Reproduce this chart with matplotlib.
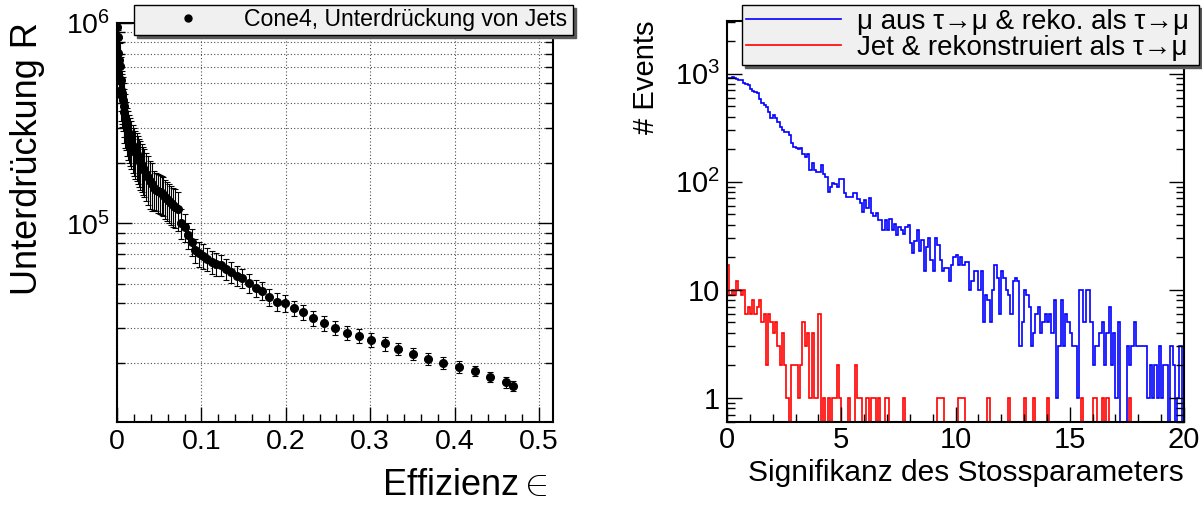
import numpy as np
import matplotlib
matplotlib.use("Agg")
import matplotlib.pyplot as plt
from matplotlib.lines import Line2D
from matplotlib.ticker import MultipleLocator, LogLocator, NullFormatter, FuncFormatter

plt.rcParams['font.family'] = ['Liberation Sans', 'DejaVu Sans']
plt.rcParams['mathtext.fontset'] = 'custom'
plt.rcParams['mathtext.rm'] = 'Liberation Sans'
plt.rcParams['mathtext.it'] = 'Liberation Sans:italic'
plt.rcParams['mathtext.bf'] = 'Liberation Sans:bold'

# left panel: efficiency vs. jet rejection (Cone4)
efficiency = [0.0004, 0.0010, 0.0017, 0.0025, 0.0036, 0.0043, 0.0049, 0.0058, 0.0065, 0.0072,
              0.0080, 0.0088, 0.0095, 0.0105, 0.0118, 0.0130, 0.0142, 0.0154, 0.0170, 0.0186,
              0.0200, 0.0216, 0.0232, 0.0250, 0.0265, 0.0277, 0.0295, 0.0310, 0.0323, 0.0345,
              0.0368, 0.0390, 0.0414, 0.0436, 0.0460, 0.0482, 0.0505, 0.0528, 0.0550, 0.0573,
              0.0596, 0.0619, 0.0642, 0.0665, 0.0690, 0.0719, 0.0764, 0.0805, 0.0847, 0.0892,
              0.0929, 0.0970, 0.1015, 0.1066, 0.1120, 0.1175, 0.1234, 0.1294, 0.1348, 0.1421,
              0.1485, 0.1567, 0.1649, 0.1722, 0.1804, 0.1895, 0.1995, 0.2100, 0.2204, 0.2327,
              0.2455, 0.2587, 0.2724, 0.2865, 0.3015, 0.3170, 0.3334, 0.3502, 0.3685, 0.3863,
              0.4050, 0.4241, 0.4424, 0.4606, 0.4690]
rejection = [960000, 850000, 711000, 650000, 608000, 520000, 464000, 445000, 430000, 415000,
             385000, 360000, 340000, 318000, 298000, 285000, 275000, 265000, 255000, 243000,
             236000, 228000, 222000, 215000, 208000, 202000, 196000, 190000, 185000, 177000,
             170000, 162000, 157000, 150000, 147000, 145000, 143000, 141000, 139000, 135000,
             132000, 129000, 126000, 123000, 121000, 118000, 100700, 95800, 87700, 81100,
             73600, 70800, 68900, 66300, 64300, 62800, 62300, 59500, 57500, 54900,
             53200, 50500, 47500, 46100, 43000, 40700, 40100, 37700, 36000, 33700,
             31800, 30200, 28500, 27400, 26200, 25200, 23700, 22400, 21000, 20100,
             19200, 18400, 17100, 16100, 15500]
rel_error = [0.30, 0.30, 0.30, 0.30, 0.30, 0.30, 0.30, 0.30, 0.30, 0.30,
             0.30, 0.30, 0.30, 0.27, 0.27, 0.27, 0.27, 0.27, 0.27, 0.27,
             0.27, 0.27, 0.27, 0.27, 0.27, 0.27, 0.27, 0.27, 0.27, 0.27,
             0.27, 0.27, 0.27, 0.22, 0.22, 0.22, 0.22, 0.22, 0.22, 0.22,
             0.22, 0.22, 0.22, 0.22, 0.22, 0.22, 0.17, 0.16, 0.15, 0.15,
             0.14, 0.14, 0.14, 0.13, 0.13, 0.13, 0.12, 0.12, 0.12, 0.11,
             0.11, 0.11, 0.10, 0.10, 0.10, 0.10, 0.10, 0.09, 0.09, 0.09,
             0.09, 0.08, 0.08, 0.08, 0.08, 0.08, 0.07, 0.07, 0.07, 0.07,
             0.07, 0.06, 0.06, 0.06, 0.06]

# right panel: impact parameter significance, 200 bins from 0 to 20
sig_range = (0, 20)
mu_counts = [918, 918, 930, 900, 893, 870, 867, 826, 800, 780,
             713, 692, 670, 662, 579, 536, 510, 495, 440, 385,
             412, 386, 360, 321, 300, 289, 285, 270, 226, 210,
             203, 199, 203, 180, 170, 180, 128, 148, 128, 124,
             124, 143, 117, 111, 81, 90, 98, 96, 90, 105,
             105, 78, 72, 72, 72, 78, 78, 69, 63, 53,
             68, 57, 70, 51, 48, 51, 44, 44, 36, 44,
             36, 45, 36, 41, 32, 38, 36, 33, 38, 40,
             27, 22, 28, 36, 23, 29, 15, 25, 30, 19,
             15, 30, 26, 19, 15, 16, 16, 12, 17, 20,
             21, 17, 20, 17, 18, 18, 10, 12, 15, 15,
             10, 15, 5, 9, 8, 5, 10, 17, 13, 6,
             15, 13, 10, 9, 6, 12, 13, 12, 3, 5,
             10, 9, 7, 3, 4, 6, 7, 4, 5, 6,
             5, 6, 4, 8, 1, 3, 8, 3, 6, 5,
             4, 3, 3, 1, 10, 10, 5, 10, 10, 5,
             2, 3, 3, 4, 5, 2, 4, 7, 2, 4,
             1, 5, 0, 0, 0, 3, 2, 3, 5, 3,
             3, 3, 3, 3, 1, 2, 1, 2, 1, 3,
             1, 2, 2, 0, 3, 2, 0, 1, 3, 0]
jet_counts = [17, 9, 10, 9, 12, 10, 9, 10, 6, 7,
              6, 8, 6, 7, 8, 5, 6, 2, 6, 5,
              4, 5, 3, 2, 4, 2, 1, 0, 2, 2,
              2, 1, 2, 5, 3, 4, 1, 4, 1, 1,
              6, 0, 1, 0, 1, 0, 1, 1, 2, 1,
              0, 0, 0, 1, 0, 0, 2, 1, 1, 0,
              0, 1, 0, 1, 1, 0, 1, 0, 0, 1,
              1, 0, 0, 0, 0, 0, 0, 1, 0, 0,
              0, 0, 0, 0, 0, 0, 0, 0, 0, 0,
              0, 0, 1, 1, 1, 0, 0, 0, 0, 0,
              0, 1, 1, 1, 0, 0, 0, 0, 0, 0,
              0, 0, 0, 0, 1, 0, 0, 0, 0, 0,
              0, 0, 0, 1, 0, 0, 0, 0, 0, 0,
              1, 0, 0, 0, 1, 0, 0, 0, 0, 0,
              1, 0, 0, 0, 0, 0, 0, 0, 0, 0,
              0, 0, 0, 0, 0, 1, 0, 0, 0, 0,
              1, 1, 0, 0, 1, 0, 1, 0, 0, 0,
              0, 0, 0, 0, 0, 0, 1, 0, 0, 0,
              0, 0, 0, 0, 0, 0, 0, 0, 0, 0,
              0, 0, 0, 0, 0, 0, 0, 0, 0, 0]

W, H = 1202, 505
fig = plt.figure(figsize=(W / 100, H / 100), dpi=100)

leg_style = dict(frameon=True, fancybox=False, edgecolor='k', facecolor='#f0f0f0',
                 framealpha=1, shadow={'color': '0.35', 'alpha': 1},
                 bbox_transform=fig.transFigure, mode='expand', borderaxespad=0)

# ---------------- left panel ----------------
ax1 = fig.add_axes([117 / W, 83 / H, 436 / W, 399 / H])
rej = np.array(rejection)
ax1.errorbar(efficiency, rej, yerr=rej * np.array(rel_error), fmt='o', color='k',
             ms=5.5, ecolor='k', elinewidth=0.8, capsize=2, capthick=0.8, zorder=3)
ax1.set_yscale('log')
ax1.set_xlim(0, 0.5166)
ax1.set_ylim(1.02e4, 1e6)
ax1.xaxis.set_major_locator(MultipleLocator(0.1))
ax1.xaxis.set_minor_locator(MultipleLocator(0.02))
ax1.xaxis.set_major_formatter(FuncFormatter(lambda v, p: '%g' % round(v, 3)))
ax1.yaxis.set_minor_locator(LogLocator(base=10, subs=np.arange(2, 10)))
ax1.yaxis.set_minor_formatter(NullFormatter())
ax1.grid(True, axis='x', which='major', ls=(0, (1, 2)), color='0.3', lw=0.8)
ax1.grid(True, axis='y', which='both', ls=(0, (1, 2)), color='0.3', lw=0.8)
ax1.tick_params(which='both', direction='in', right=True, labelsize=20.5, width=1)
ax1.tick_params(which='major', length=11, pad=5)
ax1.tick_params(which='minor', length=5.5)
for s in ax1.spines.values():
    s.set_linewidth(1.5)

fig.text(28 / W, 1 - 22 / H, 'Unterdrückung R', rotation=90, ha='center', va='top', fontsize=26)
fig.text(548 / W, 1 - 485 / H, r'Effizienz$\in$', ha='right', va='center', fontsize=26)

ax1.legend(handles=[Line2D([], [], ls='none', marker='o', color='k', ms=5)],
           labels=['Cone4, Unterdrückung von Jets'], loc='upper left',
           bbox_to_anchor=(134 / W, 1 - 33 / H, 439 / W, 28 / H), fontsize=16.6,
           borderpad=0.15, handlelength=4.4, handletextpad=0.2, **leg_style)

# ---------------- right panel ----------------
ax2 = fig.add_axes([727 / W, 83 / H, 457 / W, 401 / H])
edges = np.linspace(sig_range[0], sig_range[1], len(mu_counts) + 1)
y_floor = 0.6
ax2.stairs(np.maximum(mu_counts, y_floor), edges, color='#0000ff', lw=1.2, baseline=None,
           label='μ aus τ→μ & reko. als τ→μ')
ax2.stairs(np.maximum(jet_counts, y_floor), edges, color='#ff0000', lw=1.2, baseline=None,
           label='Jet & rekonstruiert als τ→μ')
ax2.set_yscale('log')
ax2.set_xlim(*sig_range)
ax2.set_ylim(y_floor, 3060)
ax2.xaxis.set_major_locator(MultipleLocator(5))
ax2.xaxis.set_minor_locator(MultipleLocator(1))
ax2.yaxis.set_minor_locator(LogLocator(base=10, subs=np.arange(2, 10)))
ax2.yaxis.set_minor_formatter(NullFormatter())


def root_log(v, pos):
    e = int(round(np.log10(v)))
    if e == 0:
        return '1'
    if e == 1:
        return '10'
    return r'$\mathdefault{10^{%d}}$' % e


ax2.yaxis.set_major_formatter(FuncFormatter(root_log))
ax2.tick_params(which='both', direction='in', right=True, labelsize=21, width=1)
ax2.tick_params(which='major', length=11, pad=5)
ax2.tick_params(axis='x', which='major', pad=3)
ax2.tick_params(which='minor', length=5.5)
for s in ax2.spines.values():
    s.set_linewidth(1.5)

fig.text(646 / W, 1 - 21 / H, '# Events', rotation=90, ha='center', va='top', fontsize=21)
fig.text(1184 / W, 1 - 473 / H, 'Signifikanz des Stossparameters', ha='right', va='center',
         fontsize=21.5)

ax2.legend(loc='upper left', bbox_to_anchor=(742 / W, 1 - 69 / H, 457 / W, 64 / H),
           fontsize=20, borderpad=0.15, labelspacing=0.0, handlelength=3.4,
           handletextpad=0.58, **leg_style)

fig.savefig('out.png', dpi=100)
